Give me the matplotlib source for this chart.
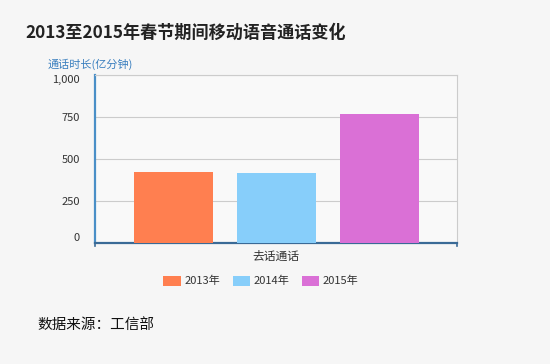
import numpy as np
import matplotlib.pyplot as plt
from matplotlib.patches import Patch

plt.rcParams['font.family'] = ['Noto Sans CJK SC', 'DejaVu Sans']

# data
category = '去话通话'
years = ['2013年', '2014年', '2015年']
minutes = [420, 415, 768]
colors = ['#ff7f50', '#87cefa', '#da70d6']
yticks = [0, 250, 500, 750, 1000]

fig = plt.figure(figsize=(5.5, 3.64), dpi=100)
fig.patch.set_facecolor('#f6f6f6')
ax = fig.add_axes([95 / 550, 121 / 364, 362 / 550, 168 / 364])
ax.set_facecolor('#f9f9f9')

bar_w = 79 / 362
step = 103 / 362
offsets = (np.arange(len(years)) - 1) * step
for off, v, c, lab in zip(offsets, minutes, colors, years):
    ax.bar(off, v, width=bar_w, color=c, label=lab, zorder=3)

ax.set_xlim(-0.5, 0.5)
ax.set_ylim(0, 1000)
ax.set_yticks(yticks)
ax.set_yticklabels(['{:,}'.format(t) for t in yticks], fontsize=8, color='#333333')
# echarts keeps the end labels inside the axis range
ax.get_yticklabels()[0].set_va('bottom')
ax.get_yticklabels()[-1].set_va('top')
ax.set_xticks([0])
ax.set_xticklabels([category], fontsize=8.5, color='#333333')
ax.tick_params(axis='y', length=0, pad=11)
ax.tick_params(axis='x', length=0, pad=5)
ax.grid(axis='y', color='#cccccc', linewidth=0.8, zorder=0)

for s in ['top', 'right']:
    ax.spines[s].set_color('#cccccc')
    ax.spines[s].set_linewidth(0.8)
ax.spines['left'].set_color('#4a8fc7')
ax.spines['left'].set_linewidth(1.6)
ax.spines['bottom'].set_color('#3a6a96')
ax.spines['bottom'].set_linewidth(1.6)
# small end ticks on the category axis
for xe in (-0.5, 0.5):
    ax.plot([xe, xe], [0, -18], color='#3a6a96', lw=1.2, clip_on=False)

fig.text(25 / 550, 1 - 33 / 364, '2013至2015年春节期间移动语音通话变化',
         fontsize=12.3, fontweight='bold', color='#222222', va='center')
fig.text(48 / 550, 1 - 64 / 364, '通话时长(亿分钟)', fontsize=8,
         color='#3a7fbf', va='center')

handles = [Patch(facecolor=c, edgecolor='none') for c in colors]
fig.legend(handles, years, loc='center', bbox_to_anchor=(261 / 550, 1 - 281 / 364),
           ncol=3, frameon=False, fontsize=8, handlelength=1.55, handleheight=1.0,
           columnspacing=1.1, handletextpad=0.35, labelcolor='#333333')

fig.text(37 / 550, 1 - 325 / 364, '数据来源：工信部', fontsize=10.5,
         color='#111111', va='center')

fig.savefig('out.png', dpi=100, facecolor=fig.get_facecolor())
